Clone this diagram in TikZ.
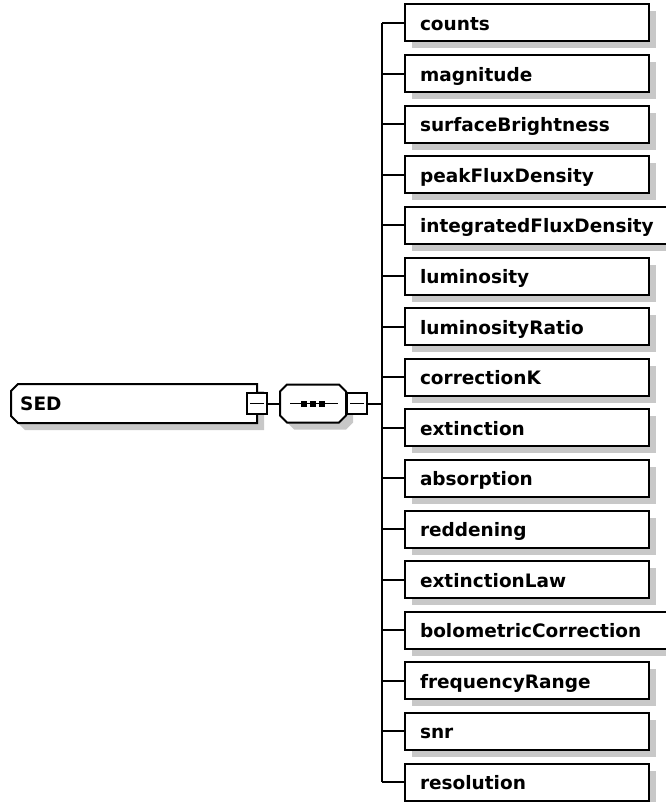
\documentclass[tikz,border=0pt]{standalone}
\usepackage{fontspec}
\setmainfont{DejaVu Sans}
\usetikzlibrary{shadows}
\definecolor{shade}{RGB}{200,200,200}
\begin{document}
\begin{tikzpicture}[x=1pt,y=-1pt,
  lbl/.style={font=\bfseries\fontsize{18.5}{20}\selectfont},
  wire/.style={draw=black, line width=2pt},
  outline/.style={draw=black, fill=white, line width=2pt,
    drop shadow={shadow xshift=7pt, shadow yshift=-7pt, fill=shade, opacity=1}},
  hold/.style={inner sep=0pt, outer sep=0pt, draw=none},
  elem/.style={outline, rectangle, anchor=west, minimum height=37pt,
    inner xsep=15pt, inner ysep=0pt, outer sep=0pt, align=left, lbl,
    text height=15pt, text depth=0pt},
  toggle/.style={draw=black, fill=white, line width=2pt, rectangle,
    minimum width=20pt, minimum height=21pt, inner sep=0pt, outer sep=0pt,
    path picture={\draw[line width=1.5pt]
      ([xshift=3pt]path picture bounding box.west) --
      ([xshift=-3pt]path picture bounding box.east);}},
]
\useasboundingbox (0,0) rectangle (665,802);

% root element with chamfered left corners
\node[hold, minimum width=246pt, minimum height=39pt] (sed) at (134,403.5) {};
\path[outline] ([xshift=7pt]sed.north west) -- (sed.north east) -- (sed.south east)
  -- ([xshift=7pt]sed.south west) -- ([yshift=7pt]sed.south west)
  -- ([yshift=-7pt]sed.north west) -- cycle;
\node[lbl, anchor=base west, inner sep=0pt] (sedlabel) at (20,410) {SED};

% sequence compositor (octagon)
\node[hold, minimum width=66pt, minimum height=38pt] (seq) at (313,403.5) {};
\path[outline] ([xshift=7pt]seq.north west) -- ([xshift=-7pt]seq.north east)
  -- ([yshift=-7pt]seq.north east) -- ([yshift=7pt]seq.south east)
  -- ([xshift=-7pt]seq.south east) -- ([xshift=7pt]seq.south west)
  -- ([yshift=7pt]seq.south west) -- ([yshift=-7pt]seq.north west) -- cycle;
\draw[line width=1.7pt] ([xshift=-23pt]seq.center) -- ([xshift=25pt]seq.center);
\foreach \dx in {-9,0,9}
  \fill ([xshift=\dx pt]seq.center) ++(-3,-3) rectangle ++(6,6);

% expand/collapse toggles
\node[toggle] (sedtoggle) at (257,403.5) {};
\node[toggle] (seqtoggle) at (357,403.5) {};
\draw[wire] (sedtoggle.east) -- (seq.west);

% child elements
\coordinate (trunk) at (382,403.5);
\foreach \name/\tw [count=\i from 0] in {counts/214, magnitude/214,
    surfaceBrightness/214, peakFluxDensity/214, integratedFluxDensity/260,
    luminosity/214, luminosityRatio/214, correctionK/214, extinction/214,
    absorption/214, reddening/214, extinctionLaw/214,
    bolometricCorrection/260, frequencyRange/214, snr/214, resolution/214}
  \node[elem, text width=\tw pt] (\name) at (405,{23+50.6*\i}) {\name};

\draw[wire] (seqtoggle.east) -- (trunk);
\draw[wire] (trunk |- counts.west) -- (trunk |- resolution.west);
\foreach \name in {counts, magnitude, surfaceBrightness, peakFluxDensity,
    integratedFluxDensity, luminosity, luminosityRatio, correctionK,
    extinction, absorption, reddening, extinctionLaw, bolometricCorrection,
    frequencyRange, snr, resolution}
  \draw[wire] (trunk |- \name.west) -- (\name.west);
\end{tikzpicture}
\end{document}
